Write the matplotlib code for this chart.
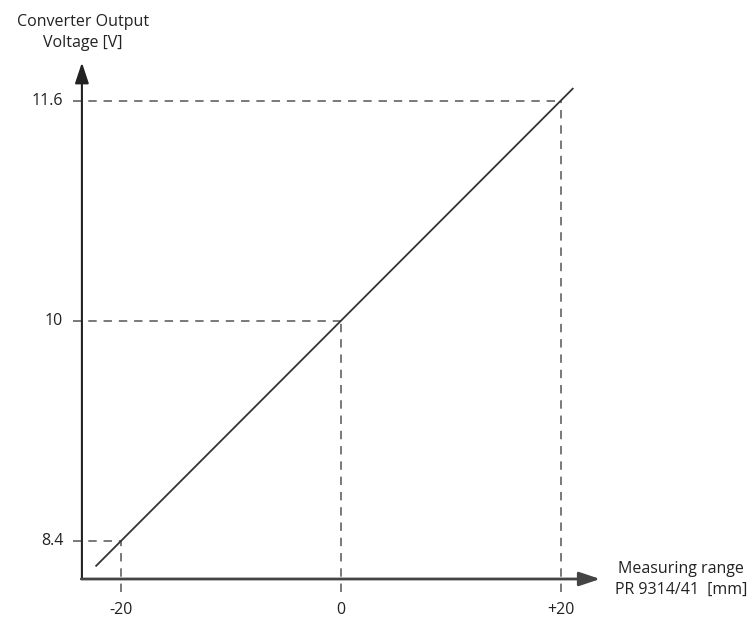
import numpy as np
import matplotlib
matplotlib.use("Agg")
import matplotlib.pyplot as plt

plt.rcParams['font.family'] = ['Open Sans', 'DejaVu Sans']

# Converter characteristic: measuring range [mm] vs output voltage [V]
line_x = [-22.3, 21.1]
line_y = [8.22, 11.69]

# Marked operating points
mark_x = [-20, 0, 20]
mark_y = [8.4, 10, 11.6]
x_labels = ['-20', '0', '+20']
y_labels = ['8.4', '10', '11.6']

# Axis extents (origin and arrow tips)
x0, x1 = -23.6, 23.6
y0, y1 = 8.124, 11.88

fig = plt.figure(figsize=(7.54, 6.23), dpi=100)
ax = fig.add_axes([0, 0, 1, 1])
ax.set_xlim(-31.06, 37.61)
ax.set_ylim(7.804, 12.335)
ax.axis('off')

# dashed guide lines to each point
dash_style = dict(color='#555555', lw=1.1, linestyle=(0, (5.5, 4.5)))
for mx, my in zip(mark_x, mark_y):
    ax.plot([-24.4, mx], [my, my], **dash_style)
    ax.plot([mx, mx], [8.03, my], **dash_style)

# characteristic line
ax.plot(line_x, line_y, color='#333333', lw=1.3)

# axes with arrow heads
arrow = dict(arrowstyle='-|>,head_length=0.9,head_width=0.3', color='#222222',
             lw=1.5, shrinkA=0, shrinkB=0, mutation_scale=14)
ax.annotate('', xy=(x0, y1), xytext=(x0, y0), arrowprops=arrow)
arrow_x = dict(arrow, color='#444444', lw=2.0)
ax.annotate('', xy=(x1, y0), xytext=(x0 - 0.06, y0), arrowprops=arrow_x)

# tick labels
for mx, lab in zip(mark_x, x_labels):
    ax.text(mx, 7.9, lab, ha='center', va='center', fontsize=11.5, color='#222222')
for my, lab in zip(mark_y, y_labels):
    ax.text(-25.3, my, lab, ha='right', va='center', fontsize=11.5, color='#222222')

# axis titles
ax.text(x0 + 0.1, 12.1, 'Converter Output\nVoltage [V]', ha='center', va='center',
        multialignment='center', fontsize=11.5, color='#222222', linespacing=1.45)
ax.text(31.0, y0, 'Measuring range\nPR 9314/41  [mm]', ha='center', va='center',
        multialignment='center', fontsize=11.5, color='#222222', linespacing=1.4)

fig.savefig('out.png', dpi=100)
